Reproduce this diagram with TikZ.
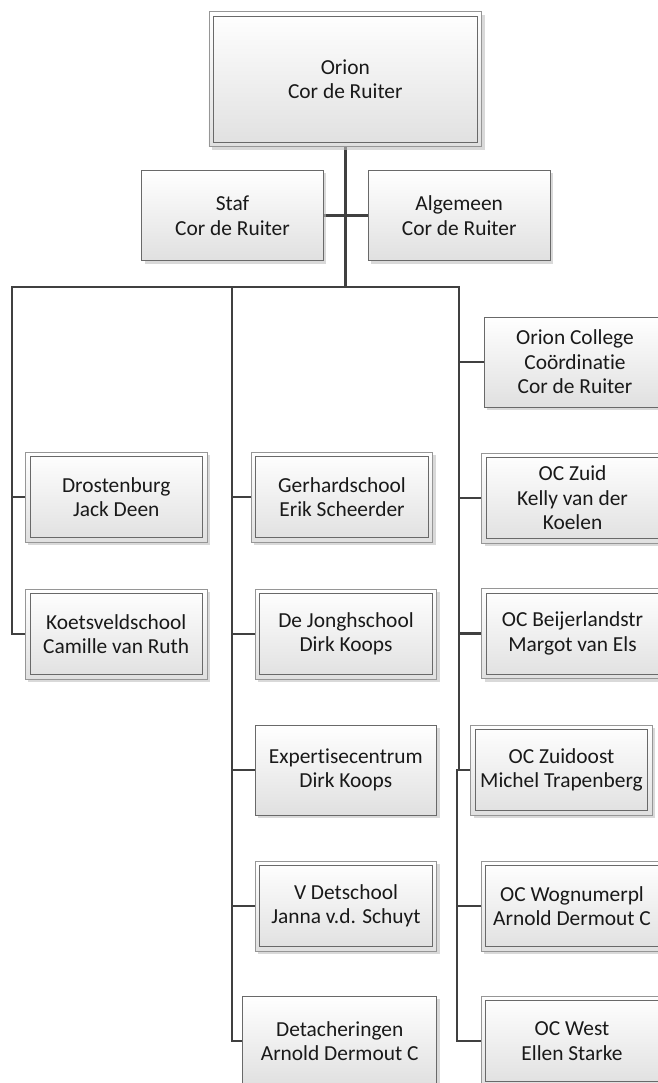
\documentclass[tikz,border=0pt]{standalone}
\usepackage{fontspec}
\setmainfont{Carlito}[Ligatures=NoCommon]
\usetikzlibrary{positioning,shadows,backgrounds}
\definecolor{linegray}{RGB}{64,64,64}
\definecolor{boxedge}{RGB}{105,105,105}
\definecolor{boxouter}{RGB}{150,150,150}
\definecolor{boxfill}{RGB}{224,224,224}

\begin{document}
\begin{tikzpicture}[
    x=1pt, y=-1pt,
    box/.style={draw=boxedge, line width=0.8pt, top color=white, bottom color=boxfill, minimum width=181.5pt, minimum height=90pt, inner sep=0pt, align=center, font=\fontsize{21.4}{24.5}\selectfont, text=black!90, drop shadow={shadow xshift=3pt, shadow yshift=-3pt, fill=black!25, opacity=0.6}},
    dbox/.style={box, draw=boxouter, path picture={\draw[boxedge, line width=0.9pt] ([xshift=4.5pt,yshift=-4.5pt]path picture bounding box.north west) rectangle ([xshift=-4.5pt,yshift=4.5pt]path picture bounding box.south east);}},
    link/.style={draw=linegray, line width=2.8pt, line cap=rect}
]
\useasboundingbox (0,0) rectangle (657,1083);

% ========== TOP ==========
\node[dbox, minimum width=272.7pt, minimum height=135pt] (orion) at (345.3,79.2) {Orion\\Cor de Ruiter};
\node[box] (staf) at (232.5,215.5) {Staf\\Cor de Ruiter};
\node[box] (algemeen) at (459.2,215.5) {Algemeen\\Cor de Ruiter};

% bus coordinates
\coordinate (busL) at (12,287);
\coordinate (busM) at (232,287);
\coordinate (busR) at (459,287);
\coordinate (jog) at (457,770);

% ========== LEFT COLUMN ==========
\node[dbox] (drost) at (116.2,497) {Drostenburg\\Jack Deen};
\node[dbox] (koets) at (116.2,634) {Koetsveldschool\\Camille van Ruth};

% ========== MIDDLE COLUMN ==========
\node[dbox] (gerhard) at (342,497) {Gerhardschool\\Erik Scheerder};
\node[dbox] (jongh) at (346,634) {De Jonghschool\\Dirk Koops};
\node[box] (expert) at (345.8,770) {Expertisecentrum\\Dirk Koops};
\node[dbox] (vdet) at (346,906) {V Detschool\\Janna v.d. Schuyt};
\node[box, minimum width=194pt] (detach) at (339.7,1041) {Detacheringen\\Arnold Dermout C};

% ========== RIGHT COLUMN ==========
\node[box] (ocoll) at (575,362) {Orion College\\Coördinatie\\Cor de Ruiter};
\node[dbox] (oczuid) at (572.5,498) {OC Zuid\\Kelly van der\\Koelen};
\node[dbox] (ocbeij) at (572.5,633.5) {OC Beijerlandstr\\Margot van Els};
\node[dbox] (oczo) at (561.5,770) {OC Zuidoost\\Michel Trapenberg};
\node[dbox] (ocwog) at (572,906) {OC Wognumerpl\\Arnold Dermout C};
\node[dbox] (ocwest) at (572,1041) {OC West\\Ellen Starke};

% ========== CONNECTORS ==========
\begin{scope}[on background layer]
\draw[link] (orion.south) -- (orion.south |- busL);
\draw[link] (staf) -- (algemeen);
\draw[link] (busL) -- (busR);
\draw[link] (busL) |- (drost);
\draw[link] (busL) |- (koets);
\draw[link] (busM) |- (gerhard);
\draw[link] (busM) |- (jongh);
\draw[link] (busM) |- (expert);
\draw[link] (busM) |- (vdet);
\draw[link] (busM) |- (detach);
\draw[link] (busR) |- (ocoll);
\draw[link] (busR) |- (oczuid);
\draw[link] (busR) |- (ocbeij);
\draw[link] (busR) |- (oczo);
\draw[link] (jog) |- (ocwog);
\draw[link] (jog) |- (ocwest);
\end{scope}

\end{tikzpicture}
\end{document}
